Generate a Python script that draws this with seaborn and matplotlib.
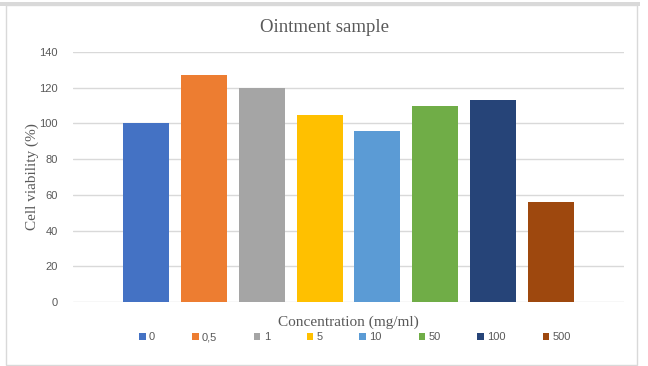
import matplotlib.pyplot as plt
import seaborn as sns
import pandas as pd
from matplotlib.patches import Rectangle

# данные
concentrations = ['0', '0,5', '1', '5', '10', '50', '100', '500']
viability = [100, 127, 120, 105, 96, 110, 113, 56]
colors = ['#4472C4', '#ED7D31', '#A5A5A5', '#FFC000',
          '#5B9BD5', '#70AD47', '#264478', '#9E480E']

df = pd.DataFrame({'group': [''] * len(concentrations),
                   'conc': concentrations,
                   'viability': viability})

sns.set_style('white')
plt.rcParams['font.family'] = ['Liberation Sans', 'DejaVu Sans']

fig = plt.figure(figsize=(6.48, 3.66), dpi=100)
ax = fig.add_axes([73 / 648, 1 - 302 / 366, 551 / 648, 250 / 366])

sns.barplot(df, x='group', y='viability', hue='conc',
            hue_order=concentrations, palette=colors,
            width=0.841, gap=0.205, legend=True, ax=ax,
            saturation=1, edgecolor='none')

ax.set_xlim(-0.5, 0.5)
ax.set_ylim(0, 140)
ax.set_yticks(range(0, 141, 20))
ax.yaxis.grid(True, color='#d9d9d9', lw=1)
ax.set_axisbelow(True)
for s in ax.spines.values():
    s.set_visible(False)
ax.tick_params(axis='y', length=0, pad=11, labelsize=8, labelcolor='#595959')
ax.tick_params(axis='x', length=0)
ax.set_xticklabels([''])

serif = ['Liberation Serif', 'DejaVu Serif']
ax.set_ylabel('Cell viability (%)', family=serif, fontsize=11,
              color='#595959', labelpad=0)
ax.set_xlabel('Concentration (mg/ml)', family=serif, fontsize=11,
              color='#595959', labelpad=6)
fig.text(0.5, 1 - 27 / 366, 'Ointment sample', family=serif, fontsize=13.5,
         color='#595959', ha='center', va='center')

# легенда под графиком
handles, labels = ax.get_legend_handles_labels()
ax.get_legend().remove()
fig.legend(handles, labels, loc='center', ncol=8,
           bbox_to_anchor=(355 / 648, 1 - 337 / 366),
           frameon=False, fontsize=8, labelcolor='#595959',
           handlelength=0.6, handleheight=0.6, handletextpad=0.3,
           columnspacing=3.3)

# рамка диаграммы
fig.patches.append(Rectangle((6 / 648, 1 / 366), 631 / 648, 360 / 366,
                             transform=fig.transFigure, fill=False,
                             edgecolor='#d9d9d9', lw=1))
fig.patches.append(Rectangle((0, 1 - 6 / 366), 640 / 648, 4 / 366,
                             transform=fig.transFigure, fill=True,
                             facecolor='#d9d9d9', edgecolor='none'))

fig.savefig('out.png', dpi=100)
